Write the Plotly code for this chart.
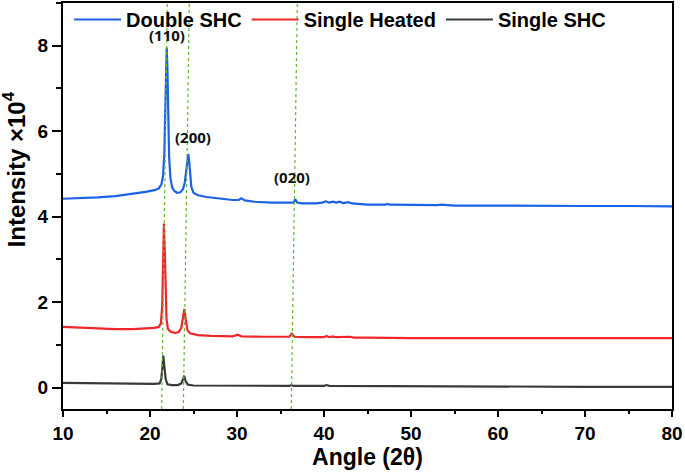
import plotly.graph_objects as go

# ---- data ----
angle_double = [10.0, 12.0, 14.0, 16.0, 18.0, 19.5, 20.5, 21.0, 21.3, 21.5, 21.65, 21.75, 21.85, 21.92,
                22.0, 22.1, 22.2, 22.35, 22.55, 22.8, 23.1, 23.5, 23.8, 24.0, 24.15, 24.3, 24.4, 24.5,
                24.6, 24.75, 25.0, 25.5, 26.5, 28.0, 29.5, 30.2, 30.5, 30.9, 32.0, 34.0, 36.0, 36.5,
                36.7, 36.9, 37.5, 39.0, 39.8, 40.2, 40.6, 41.0, 41.4, 41.8, 42.2, 42.8, 43.2, 44.0,
                45.0, 47.0, 47.3, 47.6, 50.0, 53.0, 53.5, 54.0, 55.0, 60.0, 65.0, 70.0, 75.0, 80.0]
int_double = [4.42, 4.43, 4.45, 4.48, 4.53, 4.58, 4.62, 4.66, 4.75, 4.95, 5.5, 6.6, 7.6, 7.96,
              7.5, 6.4, 5.4, 4.9, 4.68, 4.6, 4.56, 4.57, 4.65, 4.8, 5.1, 5.4, 5.47, 5.3,
              5.0, 4.7, 4.56, 4.5, 4.46, 4.42, 4.39, 4.39, 4.43, 4.38, 4.35, 4.33, 4.32, 4.33,
              4.41, 4.33, 4.31, 4.31, 4.33, 4.36, 4.33, 4.35, 4.33, 4.35, 4.32, 4.34, 4.31, 4.29,
              4.28, 4.28, 4.30, 4.28, 4.27, 4.27, 4.28, 4.27, 4.26, 4.26, 4.25, 4.25, 4.25, 4.24]

angle_heated = [10.0, 12.0, 14.0, 16.0, 18.0, 19.5, 20.5, 21.0, 21.25, 21.4, 21.5, 21.6, 21.7, 21.8,
                21.9, 22.05, 22.4, 22.9, 23.3, 23.6, 23.8, 23.95, 24.1, 24.3, 24.6, 25.5, 27.0, 29.5,
                30.1, 30.5, 33.0, 36.0, 36.3, 36.6, 38.0, 40.0, 40.3, 40.6, 41.0, 41.4, 43.0, 43.4,
                45.0, 50.0, 60.0, 70.0, 80.0]
int_heated = [1.42, 1.40, 1.38, 1.37, 1.37, 1.38, 1.40, 1.42, 1.50, 1.90, 2.80, 3.84, 3.20, 2.20,
              1.60, 1.38, 1.30, 1.28, 1.30, 1.40, 1.62, 1.84, 1.60, 1.35, 1.27, 1.23, 1.21, 1.20,
              1.24, 1.20, 1.19, 1.19, 1.26, 1.19, 1.18, 1.18, 1.21, 1.18, 1.20, 1.18, 1.19, 1.17,
              1.17, 1.16, 1.16, 1.16, 1.16]

angle_single = [10.0, 13.0, 16.0, 19.0, 20.5, 21.1, 21.3, 21.43, 21.53, 21.65, 21.8, 22.0, 22.5, 23.2,
                23.6, 23.8, 23.93, 24.1, 24.35, 25.0, 30.0, 36.0, 36.25, 36.5, 40.0, 40.3, 40.6, 50.0,
                60.0, 70.0, 80.0]
int_single = [0.11, 0.10, 0.09, 0.09, 0.09, 0.10, 0.20, 0.50, 0.75, 0.50, 0.20, 0.08, 0.06, 0.06,
              0.10, 0.20, 0.28, 0.15, 0.07, 0.05, 0.05, 0.04, 0.06, 0.04, 0.04, 0.06, 0.04, 0.03,
              0.03, 0.02, 0.02]

series_names = ["Double SHC", "Single Heated", "Single SHC"]

# dashed reference lines (slightly slanted in the original): x at bottom / top of the frame
peak_x_bottom = [21.34, 23.83, 36.24]
peak_x_top = [21.99, 24.52, 36.93]

peak_labels = ["(110)", "(200)", "(020)"]
peak_label_x = [22.0, 24.9, 36.3]
peak_label_y = [8.25, 5.87, 4.93]

x_range = [10, 80]
y_range = [-0.5, 9.0]
x_ticks = [10, 20, 30, 40, 50, 60, 70, 80]
y_ticks = [0, 2, 4, 6, 8]

# ---- figure ----
fig = go.Figure()
colors = ["#1c62e6", "#f0262a", "#3a3a3a"]
for name, xs, ys, c in zip(series_names, [angle_double, angle_heated, angle_single],
                           [int_double, int_heated, int_single], colors):
    fig.add_trace(go.Scatter(x=xs, y=ys, mode="lines", name=name,
                             line=dict(color=c, width=2.2)))

for xb, xt in zip(peak_x_bottom, peak_x_top):
    fig.add_trace(go.Scatter(x=[xb, xt], y=y_range, mode="lines", showlegend=False,
                             hoverinfo="skip",
                             line=dict(color="#63b833", width=1.2, dash="3px,3px")))

for lab, lx, ly in zip(peak_labels, peak_label_x, peak_label_y):
    fig.add_annotation(x=lx, y=ly, text=lab, showarrow=False, xref="x", yref="y",
                       xanchor="center", yanchor="middle",
                       font=dict(family="Open Sans", size=15, color="#111111", weight="bold"))

fig.add_annotation(x=-0.079, y=0.59, xref="paper", yref="paper", textangle=-90,
                   xanchor="center", yanchor="middle",
                   text="Intensity ×10<sup>4</sup>", showarrow=False,
                   font=dict(family="Liberation Sans", size=24, color="black", weight="bold"))

axis_common = dict(showline=True, linecolor="black", linewidth=2, mirror=True,
                   ticks="outside", tickcolor="black", tickwidth=1.5,
                   showgrid=False, zeroline=False,
                   tickfont=dict(family="Liberation Sans", size=19, color="black", weight="bold"))

fig.update_xaxes(range=x_range, tickvals=x_ticks, ticklen=6,
                 minor=dict(ticks="outside", ticklen=3, tickcolor="black", dtick=5, tickwidth=1.5),
                 title=dict(text="Angle (2θ)", standoff=4,
                            font=dict(family="Liberation Sans", size=23, color="black", weight="bold")),
                 **axis_common)
fig.update_yaxes(range=y_range, tickvals=y_ticks, ticklen=9,
                 minor=dict(ticks="outside", ticklen=5, tickcolor="black", dtick=1, tickwidth=1.5),
                 **axis_common)

fig.update_layout(
    width=685, height=475,
    margin=dict(l=63, r=13, t=3, b=66, autoexpand=False),
    plot_bgcolor="white", paper_bgcolor="white",
    showlegend=True,
    legend=dict(orientation="h", x=0.01, y=1.0, xanchor="left", yanchor="top",
                yref="container",
                bgcolor="rgba(0,0,0,0)", itemwidth=47,
                font=dict(family="Liberation Sans", size=20, color="black", weight="bold"),
                tracegroupgap=0),
)

fig.write_html("out.html", config={"displayModeBar": False},
               post_script="document.body.style.margin='0';")
